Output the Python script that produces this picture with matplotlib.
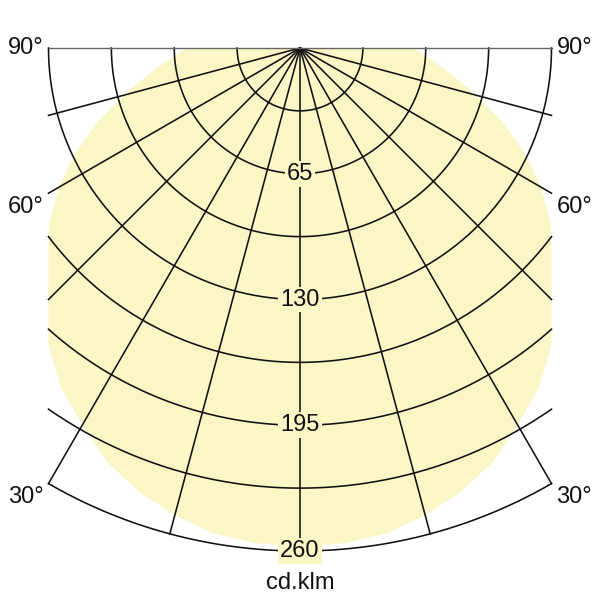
import numpy as np
import matplotlib.pyplot as plt

plt.rcParams['font.family'] = ['Liberation Sans', 'DejaVu Sans']

# light distribution curve (cd/klm) vs angle from nadir, symmetric
angles = [0, 5, 10, 15, 20, 25, 30, 35, 40, 45, 50, 55, 60, 65, 70, 75, 80, 85, 90]
intensity = [258, 257, 255, 250, 244, 236, 225, 215, 202, 188, 173, 158,
             144, 128, 111, 94, 80, 68, 58]

# grid
ring_values = [32.5, 65, 97.5, 130, 162.5, 195, 227.5, 260]
ring_labels = [65, 130, 195, 260]
spoke_angles = [-75, -60, -45, -30, -15, 0, 15, 30, 45, 60, 75]
angle_labels = [90, 60, 30]
unit_label = "cd.klm"

rmax = 260
half_width = rmax * np.sin(np.radians(30))  # grid clipped at x = +-130

fill_col = '#faf6c6'
line_col = '#111111'

fig = plt.figure(figsize=(6, 6), dpi=100)
ax = fig.add_axes([0, 0, 1, 1])
scale = 503.0 / rmax  # px per cd/klm
ax.set_xlim(-300 / scale, 300 / scale)
ax.set_ylim(-552 / scale, 48 / scale)
ax.set_aspect('equal')
ax.axis('off')


def to_xy(r, deg):
    t = np.radians(deg)
    return r * np.sin(t), -r * np.cos(t)


# curve, mirrored for the other half
th = np.array([-a for a in angles[::-1]] + angles[1:])
rr = np.array(intensity[::-1] + intensity[1:])
cx, cy = to_xy(rr, th)
curve = ax.fill(cx, cy, color=fill_col, lw=0, zorder=1)[0]

# clip the curve to the grid area
edge = np.linspace(30, -30, 100)
ex, ey = to_xy(rmax, edge)
clip_x = np.concatenate([[-half_width, half_width], ex, [-half_width]])
clip_y = np.concatenate([[0, 0], ey, [0]])
clip = plt.Polygon(np.column_stack([clip_x, clip_y]), closed=True,
                   transform=ax.transData, fill=False, lw=0)
ax.add_patch(clip)
curve.set_clip_path(clip)

# rings
for r in ring_values:
    tmax = 90 if r <= half_width else np.degrees(np.arcsin(half_width / r))
    t = np.linspace(-tmax, tmax, 300)
    x, y = to_xy(r, t)
    ax.plot(x, y, color=line_col, lw=1.15, zorder=2)

# spokes
for a in spoke_angles:
    if abs(a) <= 30:
        rend = rmax
    else:
        rend = half_width / abs(np.sin(np.radians(a)))
    x, y = to_xy(np.array([0, rend]), a)
    ax.plot(x, y, color=line_col, lw=1.15, zorder=2)

# top line (90 deg)
ax.plot([-half_width, half_width], [0, 0], color='#666666', lw=1.0, zorder=2)

# ring value labels on the 0 deg axis
for v in ring_labels:
    ax.text(0, -v, str(v), ha='center', va='center', fontsize=17,
            color='#111111', zorder=4,
            bbox=dict(boxstyle='square,pad=0.08', fc=fill_col, ec='none'))

# angle labels on both sides
for a in angle_labels:
    y_end = 0 if a == 90 else -half_width / np.tan(np.radians(a))
    y_lab = y_end if a == 90 else y_end - 7
    ax.text(-half_width - 2.6, y_lab, f"{a}°", ha='right', va='center',
            fontsize=17, color='#111111')
    ax.text(half_width + 2.6, y_lab, f"{a}°", ha='left', va='center',
            fontsize=17, color='#111111')

ax.text(0, -535 / scale, unit_label, ha='center', va='center',
        fontsize=17, color='#111111')

plt.savefig("out.png", dpi=100)
